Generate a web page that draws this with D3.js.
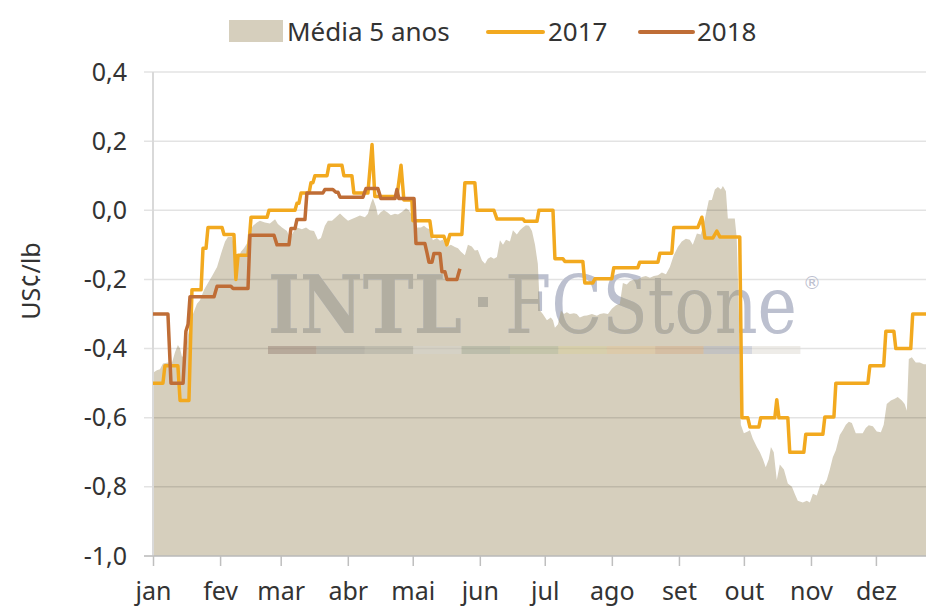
<!DOCTYPE html>
<html><head><meta charset="utf-8">
<script src="https://cdnjs.cloudflare.com/ajax/libs/d3/7.8.5/d3.min.js"></script>
<style>
html,body{margin:0;padding:0;background:#fff;}
svg{display:block;font-family:"Noto Sans",sans-serif;}
</style></head>
<body>
<svg id="chart" width="926" height="608"></svg>
<script>
// ---------- DATA ----------
const months = ["jan","fev","mar","abr","mai","jun","jul","ago","set","out","nov","dez"];
const yTicks = [0.4, 0.2, 0.0, -0.2, -0.4, -0.6, -0.8, -1.0];
const seriesNames = ["Média 5 anos", "2017", "2018"];

// day of year (0 = 1 Jan) and values in US¢/lb
const avgDay = [0,1.8,3.2,4.6,6.9,8.8,10.2,11.5,12.5,13.4,14.8,16.2,17.1,18.5,20.3,21.7,23.6,25.4,27.3,29.6,31.9,33.3,34.6,36.5,37.9,39.3,40.6,42.0,43.4,44.8,46.2,48.0,49.4,51.7,54.0,56.4,57.7,59.6,61.9,63.3,65.1,66.5,68.8,70.7,72.5,74.4,76.2,77.6,79.4,80.8,82.7,84.5,86.4,88.2,90.1,91.9,93.8,95.6,97.9,99.3,100.7,101.6,103.0,103.9,105.3,106.7,108.1,109.9,111.8,113.2,115.0,116.9,118.2,119.2,120.6,121.9,123.8,125.2,126.6,127.9,129.3,131.2,132.6,133.9,135.8,137.6,139.5,140.9,142.3,144.1,145.5,147.3,148.7,150.1,152.0,153.4,154.7,156.1,157.5,158.9,160.3,161.7,163.1,164.9,166.3,168.1,169.5,170.9,172.3,173.7,175.1,176.5,177.8,178.8,180.1,182.0,183.8,184.8,185.7,187.1,188.5,189.8,191.2,192.6,194.5,195.8,197.2,199.1,200.5,202.8,205.1,206.5,208.3,210.2,212.0,213.9,215.7,217.1,218.9,220.3,222.2,224.0,225.9,227.7,229.6,231.4,233.3,235.1,237.0,238.8,240.6,242.5,244.3,246.2,248.0,249.4,251.3,253.1,255.0,256.8,258.2,259.6,261.0,262.4,263.3,264.7,265.6,267.0,268.8,269.7,270.7,271.6,273.0,274.8,275.8,277.1,279.0,280.4,281.8,283.1,284.5,285.5,286.8,288.2,289.6,291.5,293.3,295.2,296.5,297.9,300.2,302.1,303.5,304.9,306.7,308.5,309.9,311.3,312.7,314.1,315.5,317.3,318.7,320.1,321.5,322.9,324.7,326.6,327.9,329.3,330.7,332.6,334.4,336.3,337.6,339.0,340.9,342.7,344.1,346.0,347.3,348.3,349.2,350.6,352.4,354.3,356.1,358.0];
const avgVal = [-0.47,-0.463,-0.46,-0.443,-0.44,-0.44,-0.41,-0.39,-0.40,-0.424,-0.42,-0.36,-0.33,-0.30,-0.27,-0.26,-0.23,-0.21,-0.19,-0.164,-0.116,-0.09,-0.077,-0.077,-0.116,-0.145,-0.12,-0.11,-0.096,-0.06,-0.045,-0.035,-0.03,-0.035,-0.038,-0.026,-0.04,-0.05,-0.06,-0.08,-0.06,-0.05,-0.055,-0.05,-0.058,-0.06,-0.085,-0.08,-0.045,-0.03,-0.03,-0.02,-0.009,-0.02,-0.03,-0.025,-0.02,-0.015,-0.02,-0.01,0.02,0.035,0.01,-0.015,-0.005,0.0,-0.005,-0.014,-0.01,-0.012,-0.005,0.006,0.0,-0.01,-0.03,-0.05,-0.05,-0.045,-0.052,-0.055,-0.087,-0.08,-0.088,-0.085,-0.106,-0.1,-0.106,-0.11,-0.12,-0.13,-0.1,-0.105,-0.116,-0.115,-0.145,-0.155,-0.14,-0.135,-0.14,-0.135,-0.087,-0.1,-0.085,-0.09,-0.058,-0.07,-0.058,-0.05,-0.043,-0.045,-0.06,-0.1,-0.155,-0.29,-0.30,-0.318,-0.31,-0.318,-0.34,-0.33,-0.29,-0.30,-0.295,-0.30,-0.298,-0.30,-0.31,-0.305,-0.304,-0.30,-0.305,-0.30,-0.298,-0.30,-0.285,-0.275,-0.27,-0.21,-0.215,-0.205,-0.20,-0.20,-0.193,-0.19,-0.195,-0.19,-0.188,-0.18,-0.185,-0.164,-0.13,-0.106,-0.09,-0.082,-0.085,-0.10,-0.067,-0.07,-0.024,0.029,0.03,0.06,0.067,0.06,0.07,0.055,-0.024,-0.024,-0.024,-0.08,-0.30,-0.62,-0.645,-0.64,-0.636,-0.66,-0.685,-0.70,-0.72,-0.743,-0.72,-0.685,-0.70,-0.78,-0.735,-0.75,-0.79,-0.80,-0.82,-0.84,-0.845,-0.84,-0.845,-0.82,-0.825,-0.79,-0.795,-0.78,-0.75,-0.714,-0.694,-0.65,-0.636,-0.62,-0.612,-0.615,-0.645,-0.645,-0.645,-0.63,-0.622,-0.625,-0.64,-0.642,-0.62,-0.56,-0.55,-0.545,-0.54,-0.55,-0.56,-0.58,-0.43,-0.425,-0.44,-0.44,-0.445,-0.445];

const y2017Day = [0,4.6,5.5,11.5,12.5,16.6,18.0,22.2,23.1,24.5,25.4,31.9,32.8,37.4,38.3,39.3,43.9,45.3,52.7,53.6,65.6,66.5,67.4,68.4,72.1,73.0,73.9,74.8,80.4,81.3,87.3,88.2,91.9,92.8,99.3,101.2,102.5,112.7,114.6,115.9,119.6,120.1,127.9,128.9,134.4,135.8,137.2,142.7,144.1,148.7,149.7,157.5,158.9,170.9,171.8,177.4,178.3,184.8,185.7,189.4,190.3,198.6,199.5,203.2,204.2,212.0,212.9,224.0,224.9,233.3,234.2,239.7,240.6,251.7,253.6,255.0,258.7,260.5,261.9,271.1,272.1,274.8,275.8,279.9,280.8,287.3,288.2,289.2,293.3,294.2,300.7,301.6,309.5,310.4,314.6,315.5,330.3,331.2,337.6,338.6,342.3,343.2,350.1,351.0,361.2];
const y2017Val = [-0.50,-0.50,-0.45,-0.45,-0.55,-0.55,-0.23,-0.23,-0.11,-0.11,-0.05,-0.05,-0.07,-0.07,-0.20,-0.13,-0.13,-0.02,-0.02,0.00,0.00,0.02,0.02,0.05,0.05,0.08,0.08,0.10,0.10,0.13,0.13,0.10,0.10,0.05,0.05,0.19,0.04,0.04,0.13,0.03,0.03,-0.03,-0.03,-0.075,-0.075,-0.10,-0.07,-0.07,0.08,0.08,0.00,0.00,-0.025,-0.025,-0.032,-0.032,0.00,0.00,-0.14,-0.14,-0.148,-0.148,-0.21,-0.21,-0.198,-0.198,-0.166,-0.166,-0.15,-0.15,-0.124,-0.124,-0.05,-0.05,-0.02,-0.08,-0.08,-0.06,-0.077,-0.077,-0.60,-0.60,-0.627,-0.627,-0.60,-0.60,-0.548,-0.60,-0.60,-0.70,-0.70,-0.648,-0.648,-0.598,-0.598,-0.50,-0.50,-0.45,-0.45,-0.35,-0.35,-0.40,-0.40,-0.30,-0.30];

const y2018Day = [0,6.9,8.3,13.9,15.2,16.2,17.1,28.2,29.6,36.0,37.0,43.9,44.8,55.9,57.3,62.8,63.7,65.6,66.5,70.2,71.1,78.5,79.4,83.1,84.5,85.5,86.4,97.0,98.4,103.9,105.3,111.8,112.7,113.6,120.6,121.5,125.6,126.6,127.5,128.9,129.8,132.6,133.5,134.9,135.8,140.4,141.8];
const y2018Val = [-0.30,-0.30,-0.50,-0.50,-0.35,-0.33,-0.25,-0.25,-0.22,-0.22,-0.226,-0.226,-0.072,-0.072,-0.10,-0.10,-0.053,-0.053,-0.027,-0.027,0.05,0.05,0.06,0.06,0.052,0.052,0.038,0.038,0.063,0.063,0.034,0.034,0.06,0.034,0.034,-0.096,-0.096,-0.123,-0.15,-0.15,-0.125,-0.125,-0.178,-0.178,-0.20,-0.20,-0.169];

// ---------- STYLE ----------
const C_AVG = "#d6cfbd", C_17 = "#f2a91f", C_18 = "#bf6d36";
const W = 926, H = 608;
const pL = 153, pR = 943, pT = 72, pB = 556;

const svg = d3.select("#chart");
const t0 = new Date(2017, 0, 1), t1 = new Date(2018, 0, 1);
const toDate = d => new Date(t0.getTime() + d * 864e5);
const x = d3.scaleTime().domain([t0, t1]).range([pL, pR]);
const y = d3.scaleLinear().domain([-1.0, 0.4]).range([pB, pT]);

const avg = avgDay.map((d, i) => ({ d: toDate(d), v: avgVal[i] }));
const s17 = y2017Day.map((d, i) => ({ d: toDate(d), v: y2017Val[i] }));
const s18 = y2018Day.map((d, i) => ({ d: toDate(d), v: y2018Val[i] }));

const defs = svg.append("defs");
defs.append("clipPath").attr("id", "plotclip")
  .append("rect").attr("x", pL).attr("y", 0).attr("width", W - pL).attr("height", pB);

const areaGen = d3.area().x(p => x(p.d)).y0(y(-1.0)).y1(p => y(p.v));
const areaPath = areaGen(avg);
defs.append("clipPath").attr("id", "areaclip").append("path").attr("d", areaPath);

// area
svg.append("path").attr("d", areaPath).attr("fill", C_AVG).attr("clip-path", "url(#plotclip)");

// grid lines
svg.append("g").selectAll("line").data(yTicks).join("line")
  .attr("x1", 144).attr("x2", W)
  .attr("y1", d => y(d)).attr("y2", d => y(d))
  .attr("stroke", "rgba(0,0,0,0.11)").attr("stroke-width", 1.5);

// watermark (drawn once, re-used in a warmer tint where it lies over the area)
const wmOuter = svg.append("g").attr("fill", "#bcc0cf");
const wm = wmOuter.append("g").attr("id", "wm");
function fitText(g, str, x0, y0, width, bold) {
  const t = g.append("text").attr("font-family", "DejaVu Serif").attr("font-size", 80)
    .attr("font-weight", bold ? "bold" : "normal").text(str);
  const len = t.node().getComputedTextLength();
  t.attr("transform", `translate(${x0},${y0}) scale(${width / len},1)`);
}
fitText(wm, "INTL", 268, 333, 194, true);
wm.append("rect").attr("x", 478).attr("y", 297).attr("width", 10).attr("height", 10);
fitText(wm, "FCStone", 505, 333, 292, false);
svg.append("use").attr("href", "#wm").attr("fill", "#b2aea1").attr("clip-path", "url(#areaclip)");
svg.append("text").attr("x", 803).attr("y", 289).attr("font-family", "DejaVu Sans")
  .attr("font-size", 18).attr("fill", "#bcc0cf").text("®");
const barCols = ["#9e8a7e","#a3a39b","#aeaea4","#d5d3cc","#a7ae9c","#b7bc9a","#d9cf9e","#e2c79a","#d6b08e","#b4b8c4","#e0ddd6"];
svg.append("g").selectAll("rect").data(barCols).join("rect")
  .attr("x", (d, i) => 268 + i * 48.4).attr("y", 346).attr("width", 48.4).attr("height", 8)
  .attr("fill", d => d).attr("opacity", 0.55);

// y axis line
svg.append("line").attr("x1", pL).attr("x2", pL).attr("y1", pT).attr("y2", pB)
  .attr("stroke", "#d9d9d9").attr("stroke-width", 2);

// x axis
const xAxis = d3.axisBottom(x).tickValues(d3.timeMonth.range(t0, t1))
  .tickFormat(d => months[d.getMonth()]).tickSize(10).tickSizeOuter(0);
const gx = svg.append("g").attr("transform", `translate(0,${pB})`).call(xAxis);
gx.select(".domain").attr("stroke", "#bfbfbf").attr("stroke-width", 1.5).attr("d", `M144,0H${W}`);
gx.selectAll(".tick line").attr("stroke", "#bfbfbf").attr("stroke-width", 1.5);
gx.selectAll(".tick text").attr("font-size", 25).attr("fill", "#333").attr("dy", 0).attr("y", 44)
  .attr("font-family", "Noto Sans");

// y axis labels
const yAxis = d3.axisLeft(y).tickValues(yTicks).tickFormat(d => d3.format(".1f")(d).replace(".", ",").replace("−", "-")).tickSize(0);
const gy = svg.append("g").attr("transform", `translate(127,0)`).call(yAxis);
gy.select(".domain").remove();
gy.selectAll(".tick text").attr("font-size", 25).attr("fill", "#333").attr("x", 0)
  .attr("font-family", "Noto Sans");

// y title
svg.append("text").attr("transform", "translate(40,281) rotate(-90)").attr("text-anchor", "middle")
  .attr("font-size", 25).attr("fill", "#333").text("US¢/lb");

// lines
const lineGen = d3.line().x(p => x(p.d)).y(p => y(p.v));
svg.append("path").attr("d", lineGen(s17)).attr("fill", "none").attr("stroke", C_17)
  .attr("stroke-width", 3.5).attr("stroke-linejoin", "round").attr("clip-path", "url(#plotclip)");
svg.append("path").attr("d", lineGen(s18)).attr("fill", "none").attr("stroke", C_18)
  .attr("stroke-width", 3.5).attr("stroke-linejoin", "round");

// legend
const lg = svg.append("g").attr("font-size", 26).attr("fill", "#333");
lg.append("rect").attr("x", 229).attr("y", 20).attr("width", 54).attr("height", 22).attr("fill", C_AVG);
lg.append("text").attr("x", 287).attr("y", 41).attr("fill", "#333").text(seriesNames[0]);
lg.append("line").attr("x1", 488).attr("x2", 543).attr("y1", 32).attr("y2", 32).attr("stroke", C_17).attr("stroke-width", 4).attr("stroke-linecap", "round");
lg.append("text").attr("x", 548).attr("y", 41).attr("fill", "#333").text(seriesNames[1]);
lg.append("line").attr("x1", 640).attr("x2", 693).attr("y1", 32).attr("y2", 32).attr("stroke", C_18).attr("stroke-width", 4).attr("stroke-linecap", "round");
lg.append("text").attr("x", 697).attr("y", 41).attr("fill", "#333").text(seriesNames[2]);
</script>
</body></html>
